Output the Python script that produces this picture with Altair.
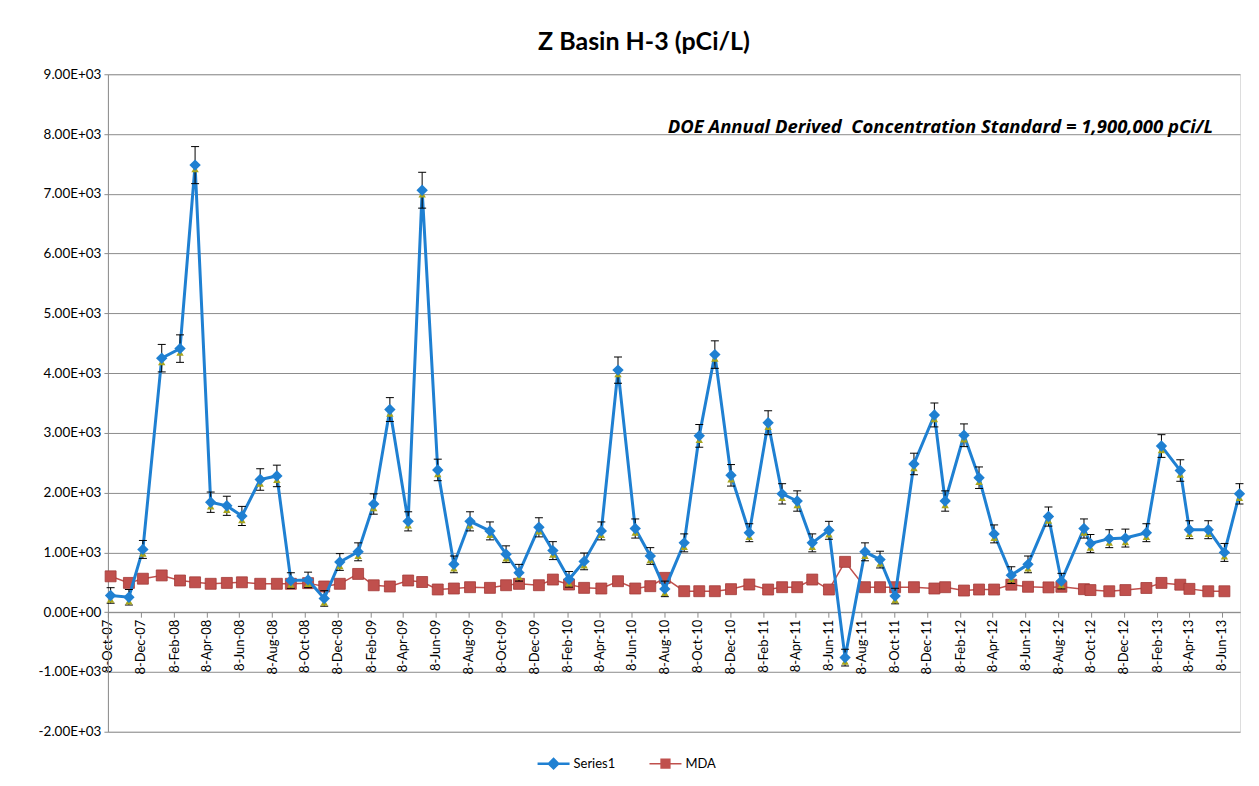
import altair as alt
import pandas as pd

# ---------------- data ----------------
dates = [
    "2007-10-13", "2007-11-16", "2007-12-12",
    "2008-01-16", "2008-02-19", "2008-03-18", "2008-04-16", "2008-05-16", "2008-06-13",
    "2008-07-17", "2008-08-17", "2008-09-12", "2008-10-14", "2008-11-13", "2008-12-12",
    "2009-01-15", "2009-02-13", "2009-03-15", "2009-04-18", "2009-05-14", "2009-06-12",
    "2009-07-12", "2009-08-11", "2009-09-17", "2009-10-17", "2009-11-10", "2009-12-17",
    "2010-01-12", "2010-02-11", "2010-03-11", "2010-04-12", "2010-05-13", "2010-06-14",
    "2010-07-12", "2010-08-08", "2010-09-13", "2010-10-11", "2010-11-09", "2010-12-09",
    "2011-01-12", "2011-02-16", "2011-03-14", "2011-04-11", "2011-05-09", "2011-06-09",
    "2011-07-09", "2011-08-15", "2011-09-12", "2011-10-10", "2011-11-14", "2011-12-22",
    "2012-01-11", "2012-02-15", "2012-03-14", "2012-04-11", "2012-05-13", "2012-06-13",
    "2012-07-21", "2012-08-14", "2012-09-25", "2012-10-07", "2012-11-11", "2012-12-11",
    "2013-01-19", "2013-02-16", "2013-03-23", "2013-04-09", "2013-05-14", "2013-06-13",
    "2013-07-11",
]

series1 = [
    280, 250, 1050,
    4250, 4410, 7480, 1840, 1780, 1610, 2220, 2280, 530, 540, 230, 840,
    1010, 1810, 3390, 1520, 7060, 2380, 800, 1520, 1360, 970, 660, 1420,
    1030, 550, 850, 1360, 4050, 1400, 940, 390, 1160, 2950, 4310, 2290,
    1330, 3170, 1980, 1860, 1160, 1370, -760, 1010, 880, 270, 2480, 3300,
    1860, 2960, 2250, 1310, 620, 800, 1600, 520, 1400, 1150, 1230, 1240,
    1330, 2780, 2370, 1380, 1380, 1000, 1980,
]

series1_err = [
    130, 130, 150,
    230, 230, 310, 170, 160, 160, 180, 180, 130, 130, 130, 140,
    150, 170, 200, 160, 300, 180, 140, 160, 150, 140, 140, 160,
    150, 130, 140, 150, 220, 160, 140, 130, 150, 190, 230, 180,
    150, 200, 170, 170, 150, 150, 140, 150, 140, 130, 180, 200,
    170, 190, 180, 150, 140, 140, 160, 130, 160, 150, 150, 150,
    150, 190, 180, 150, 150, 150, 170,
]

mda = [
    600, 490, 560,
    615, 530, 500, 475, 490, 500, 475, 475, 475, 486, 430, 475,
    640, 450, 430, 530, 505, 380, 396, 418, 407, 451, 474, 451,
    546, 463, 407, 396, 518, 396, 435, 574, 351, 351, 351, 385,
    463, 379, 418, 418, 546, 379, 842, 418, 418, 418, 418, 396,
    418, 362, 379, 379, 460, 425, 415, 425, 385, 370, 350, 370,
    405, 490, 460, 390, 350, 350,
]

tick_labels = [
    "8-Oct-07", "8-Dec-07", "8-Feb-08", "8-Apr-08", "8-Jun-08", "8-Aug-08",
    "8-Oct-08", "8-Dec-08", "8-Feb-09", "8-Apr-09", "8-Jun-09", "8-Aug-09",
    "8-Oct-09", "8-Dec-09", "8-Feb-10", "8-Apr-10", "8-Jun-10", "8-Aug-10",
    "8-Oct-10", "8-Dec-10", "8-Feb-11", "8-Apr-11", "8-Jun-11", "8-Aug-11",
    "8-Oct-11", "8-Dec-11", "8-Feb-12", "8-Apr-12", "8-Jun-12", "8-Aug-12",
    "8-Oct-12", "8-Dec-12", "8-Feb-13", "8-Apr-13", "8-Jun-13",
]

y_ticks = [-2000, -1000, 0, 1000, 2000, 3000, 4000, 5000, 6000, 7000, 8000, 9000]
series_names = ["Series1", "MDA"]

title_text = "Z Basin H-3 (pCi/L)"
note_text = "DOE Annual Derived\u00a0 Concentration Standard = 1,900,000 pCi/L"

# ---------------- styling ----------------
BLUE = "#1f80d2"
RED = "#c0504d"
GRID = "#8c8c8c"
FONT = "Lato"
W, H = 1133, 658
YMIN, YMAX = -2000, 9000

month_num = {"Jan": 1, "Feb": 2, "Mar": 3, "Apr": 4, "May": 5, "Jun": 6,
             "Jul": 7, "Aug": 8, "Sep": 9, "Oct": 10, "Nov": 11, "Dec": 12}
tick_vals = []
for lab in tick_labels:
    d, m, y = lab.split("-")
    tick_vals.append(alt.DateTime(year=2000 + int(y), month=month_num[m], date=int(d), utc=True))

s1 = pd.DataFrame({"date": dates, "value": series1, "err": series1_err})
s1["lo"] = s1["value"] - s1["err"]
s1["hi"] = s1["value"] + s1["err"]
md = pd.DataFrame({"date": dates[:len(mda)], "value": mda})

x_scale = alt.Scale(type="utc",
                    domain=[alt.DateTime(year=2007, month=10, date=8, utc=True),
                            alt.DateTime(year=2013, month=7, date=12, utc=True)])
x_axis = alt.Axis(values=tick_vals,
                  labelExpr="utcFormat(datum.value, '%-d-%b-%y')",
                  labelAngle=-90, offset=-H * (0 - YMIN) / (YMAX - YMIN),
                  grid=False, domainColor=GRID, tickColor=GRID, tickSize=5,
                  labelPadding=2, labelFontSize=13, labelColor="black",
                  labelFont=FONT, labelOverlap=False, labelBound=False)
X = alt.X("date:T", scale=x_scale, axis=x_axis, title=None)

y_scale = alt.Scale(domain=[YMIN, YMAX], nice=False, zero=False)
y_axis = alt.Axis(values=y_ticks, grid=True, gridColor=GRID, gridWidth=1,
                  domainColor=GRID, tickColor=GRID, tickSize=4, labelPadding=3,
                  labelFontSize=13.5, labelColor="black", labelFont=FONT,
                  labelExpr="replace(replace(upper(format(datum.value, '.2e')), 'E+', 'E+0'), '\u2212', '-')")
Y = alt.Y("value:Q", scale=y_scale, axis=y_axis, title=None)
Y_lo = alt.Y("lo:Q", scale=y_scale, axis=y_axis, title=None)
Y_hi = alt.Y("hi:Q", scale=y_scale, axis=y_axis, title=None)

base_s1 = alt.Chart(s1)
base_md = alt.Chart(md)

mda_line = base_md.mark_line(color=RED, strokeWidth=1.5).encode(x=X, y=Y)
mda_pts = base_md.mark_point(shape="square", filled=True, color=RED, size=120,
                             opacity=1, stroke="#a33a37", strokeWidth=0.8).encode(x=X, y=Y)

s1_line = base_s1.mark_line(color=BLUE, strokeWidth=3).encode(x=X, y=Y)
err_rule = base_s1.mark_rule(color="black", strokeWidth=1).encode(x=X, y=Y_lo, y2="hi:Q")
cap_lo = base_s1.mark_tick(orient="horizontal", color="black", size=8, thickness=1,
                           opacity=1).encode(x=X, y=Y_lo)
cap_hi = base_s1.mark_tick(orient="horizontal", color="black", size=8, thickness=1,
                           opacity=1).encode(x=X, y=Y_hi)
tri = base_s1.mark_point(shape="triangle-up", filled=True, color="#a8a51c", size=55,
                         opacity=1, yOffset=4).encode(x=X, y=Y)
s1_pts = base_s1.mark_point(shape="diamond", filled=True, color=BLUE, size=130,
                            opacity=1).encode(x=X, y=Y)

note = alt.Chart(pd.DataFrame({"t": [note_text]})).mark_text(
    align="right", baseline="middle", font="Open Sans", fontSize=18.5,
    fontStyle="italic", fontWeight="bold", color="black"
).encode(text="t:N", x=alt.value(1106), y=alt.value(53))

# legend driver (no visible marks, legend only)
sym_s1 = "M-1,-0.08L1,-0.08L1,0.08L-1,0.08Z M0,-0.4L0.4,0L0,0.4L-0.4,0Z"
sym_md = "M-1,-0.05L1,-0.05L1,0.05L-1,0.05Z M-0.32,-0.32L0.32,-0.32L0.32,0.32L-0.32,0.32Z"
leg_cfg = alt.Legend(orient="none", legendX=430, legendY=674,
                     direction="horizontal", title=None,
                     symbolSize=1024, symbolStrokeWidth=0, labelFont=FONT,
                     labelFontSize=13, labelColor="black",
                     columnPadding=34, labelOffset=4)
legend_layer = alt.Chart(pd.DataFrame({"series": series_names})).mark_point(
    filled=True, opacity=1, strokeWidth=0
).encode(
    fill=alt.Fill("series:N", scale=alt.Scale(domain=series_names, range=[BLUE, RED]), legend=leg_cfg),
    shape=alt.Shape("series:N", scale=alt.Scale(domain=series_names, range=[sym_s1, sym_md]), legend=leg_cfg),
).transform_filter("false")

chart = alt.layer(
    mda_line, mda_pts, s1_line, err_rule, cap_lo, cap_hi, tri, s1_pts, note, legend_layer
).properties(
    width=W, height=H,
    title=alt.TitleParams(title_text, font=FONT, fontSize=25, fontWeight="bold",
                          anchor="middle", offset=12, dx=-30, color="black"),
    padding={"left": 30, "top": 22, "right": 5, "bottom": 5},
).configure_view(strokeWidth=0).configure(background="white")

chart.save("out.html", embed_options={"renderer": "svg", "actions": False})
